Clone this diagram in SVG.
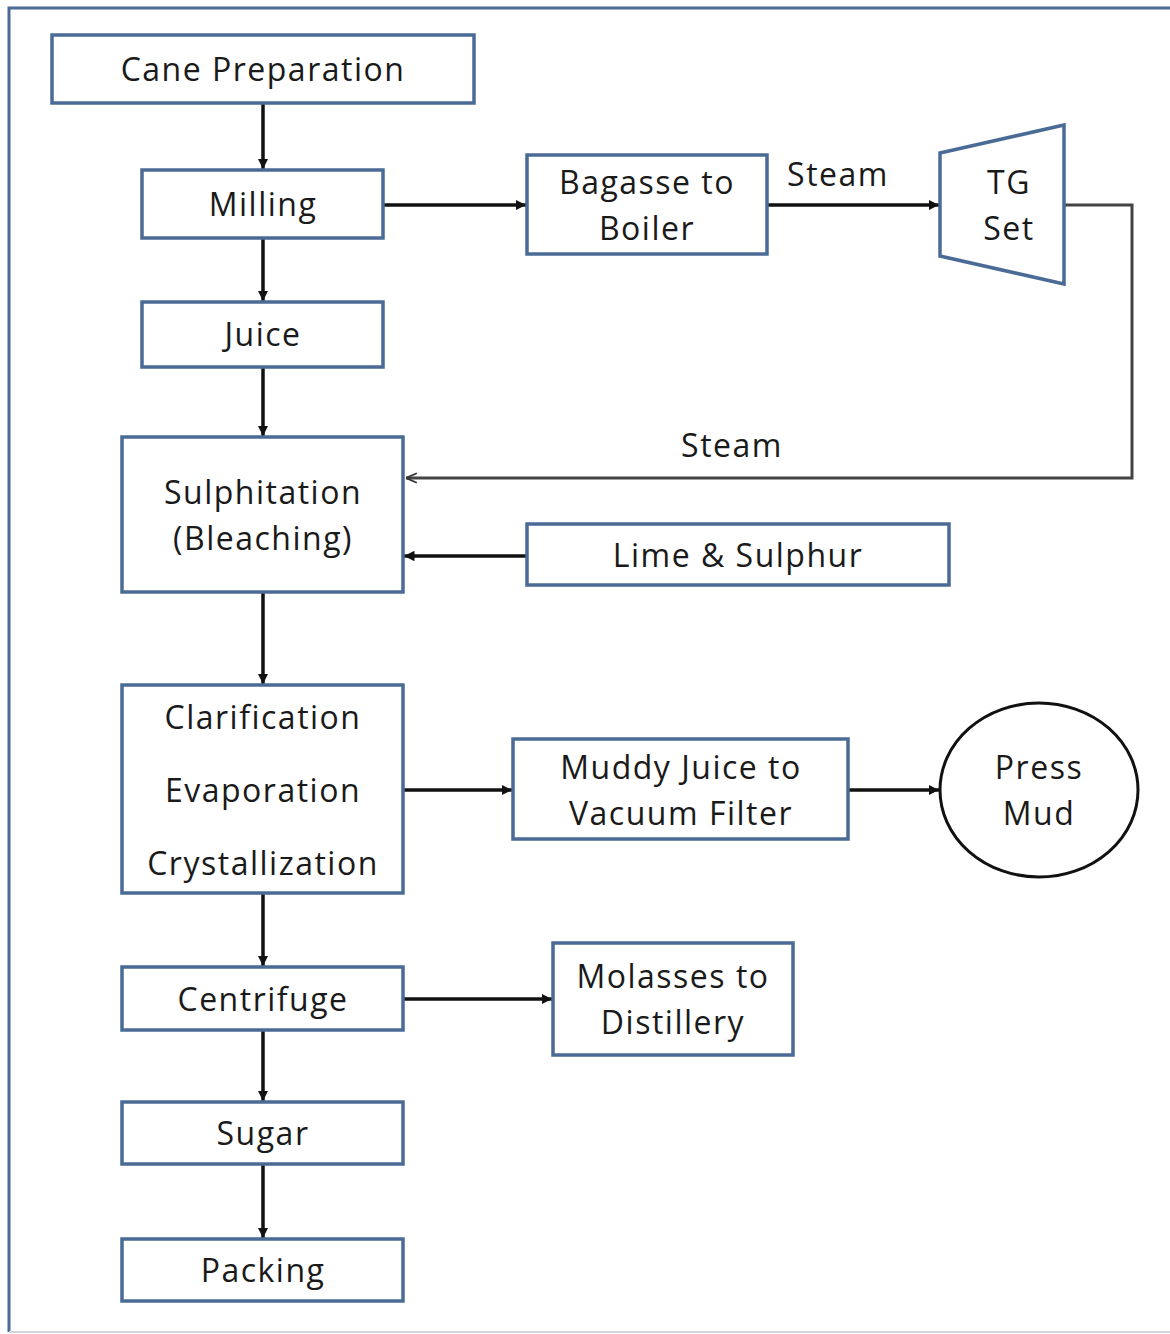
<svg xmlns="http://www.w3.org/2000/svg" width="1170" height="1334" viewBox="0 0 1170 1334">
<style>
.box{fill:#fff;stroke:#4a6b95;stroke-width:3.5}
.t{font-family:"Open Sans",Lato,"Liberation Sans",sans-serif;font-size:32px;letter-spacing:1.5px;fill:#1a1a1a;text-anchor:middle}
.c{fill:none;stroke:#111;stroke-width:3.5}
.cg{fill:none;stroke:#444;stroke-width:3}
</style>
<defs>
<marker id="a" viewBox="0 0 10 10" refX="10" refY="5" markerWidth="3" markerHeight="3" orient="auto" markerUnits="strokeWidth">
<path d="M0,0 L10,5 L0,10 z" fill="#111"/>
</marker>
<marker id="o" viewBox="0 0 10 10" refX="10" refY="5" markerWidth="4" markerHeight="4" orient="auto" markerUnits="strokeWidth">
<path d="M1,1 L10,5 L1,9" fill="none" stroke="#333" stroke-width="1.5"/>
</marker>
</defs>
<rect width="1170" height="1334" fill="#fff"/>
<path d="M9,1332 V8 H1170" fill="none" stroke="#4a6b95" stroke-width="3"/>
<path d="M9,1332 H1170" fill="none" stroke="#d0d6e0" stroke-width="2"/>

<g id="connectors">
<line class="c" x1="263" y1="103" x2="263" y2="169" marker-end="url(#a)"/>
<line class="c" x1="263" y1="238" x2="263" y2="301" marker-end="url(#a)"/>
<line class="c" x1="263" y1="367" x2="263" y2="436" marker-end="url(#a)"/>
<line class="c" x1="263" y1="592" x2="263" y2="684" marker-end="url(#a)"/>
<line class="c" x1="263" y1="893" x2="263" y2="966" marker-end="url(#a)"/>
<line class="c" x1="263" y1="1030" x2="263" y2="1101" marker-end="url(#a)"/>
<line class="c" x1="263" y1="1164" x2="263" y2="1238" marker-end="url(#a)"/>
<line class="c" x1="383" y1="205" x2="526" y2="205" marker-end="url(#a)"/>
<line class="c" x1="767" y1="205" x2="939" y2="205" marker-end="url(#a)"/>
<polyline class="cg" points="1064,205 1132,205 1132,478 406,478" marker-end="url(#o)"/>
<line class="c" x1="527" y1="556" x2="404" y2="556" marker-end="url(#a)"/>
<line class="c" x1="403" y1="790" x2="512" y2="790" marker-end="url(#a)"/>
<line class="c" x1="848" y1="790" x2="939" y2="790" marker-end="url(#a)"/>
<line class="c" x1="403" y1="999" x2="552" y2="999" marker-end="url(#a)"/>
<text class="t" x="838" y="186">Steam</text>
<text class="t" x="732" y="457">Steam</text>
</g>

<g id="cane"><rect class="box" x="52" y="35" width="422" height="68"/><text class="t" x="263" y="81">Cane Preparation</text></g>
<g id="milling"><rect class="box" x="142" y="170" width="241" height="68"/><text class="t" x="263" y="216">Milling</text></g>
<g id="juice"><rect class="box" x="142" y="302" width="241" height="65"/><text class="t" x="263" y="346">Juice</text></g>
<g id="sulph"><rect class="box" x="122" y="437" width="281" height="155"/><text class="t" x="263" y="504">Sulphitation</text><text class="t" x="263" y="550">(Bleaching)</text></g>
<g id="clar"><rect class="box" x="122" y="685" width="281" height="208"/><text class="t" x="263" y="729">Clarification</text><text class="t" x="263" y="802">Evaporation</text><text class="t" x="263" y="875">Crystallization</text></g>
<g id="centrifuge"><rect class="box" x="122" y="967" width="281" height="63"/><text class="t" x="263" y="1011">Centrifuge</text></g>
<g id="sugar"><rect class="box" x="122" y="1102" width="281" height="62"/><text class="t" x="263" y="1145">Sugar</text></g>
<g id="packing"><rect class="box" x="122" y="1239" width="281" height="62"/><text class="t" x="263" y="1282">Packing</text></g>
<g id="bagasse"><rect class="box" x="527" y="155" width="240" height="99"/><text class="t" x="647" y="194">Bagasse to</text><text class="t" x="647" y="240">Boiler</text></g>
<g id="tg"><polygon class="box" points="940,153 1064,125 1064,284 940,256"/><text class="t" x="1009" y="194">TG</text><text class="t" x="1009" y="240">Set</text></g>
<g id="lime"><rect class="box" x="527" y="524" width="422" height="61"/><text class="t" x="738" y="567">Lime &amp; Sulphur</text></g>
<g id="muddy"><rect class="box" x="513" y="739" width="335" height="100"/><text class="t" x="681" y="779">Muddy Juice to</text><text class="t" x="681" y="825">Vacuum Filter</text></g>
<g id="press"><ellipse cx="1039" cy="790" rx="99" ry="87" fill="#fff" stroke="#111" stroke-width="3"/><text class="t" x="1039" y="779">Press</text><text class="t" x="1039" y="825">Mud</text></g>
<g id="molasses"><rect class="box" x="553" y="943" width="240" height="112"/><text class="t" x="673" y="988">Molasses to</text><text class="t" x="673" y="1034">Distillery</text></g>
</svg>
